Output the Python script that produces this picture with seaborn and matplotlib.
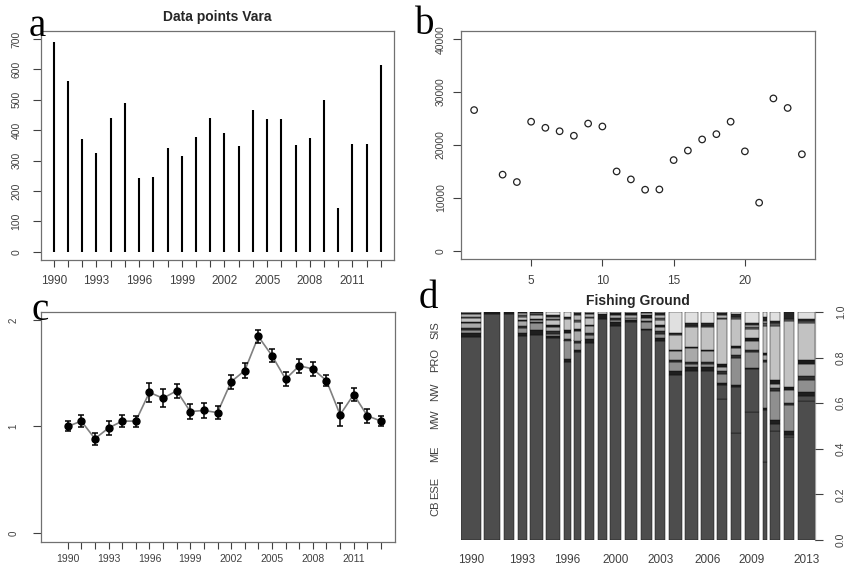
import numpy as np
import pandas as pd
import matplotlib
matplotlib.use("Agg")
import matplotlib.pyplot as plt
import seaborn as sns

# ---------------- data ----------------
years = list(range(1990, 2014))

# (a) number of data points per year
data_points = [690, 560, 370, 325, 440, 490, 243, 247, 340, 315, 378, 440,
               390, 348, 465, 435, 437, 350, 375, 500, 145, 355, 355, 615]

# (b) scatter values by index (index 2 has no value)
b_index = [1, 3, 4, 5, 6, 7, 8, 9, 10, 11, 12, 13, 14, 15, 16, 17, 18, 19,
           20, 21, 22, 23, 24]
b_values = [26600, 14400, 13000, 24400, 23250, 22600, 21750, 24050, 23500,
            15000, 13500, 11550, 11600, 17150, 18950, 21050, 22050, 24400,
            18800, 9100, 28800, 27000, 18250]

# (c) standardised index with error half-widths
c_index = [1.00, 1.05, 0.885, 0.985, 1.05, 1.05, 1.32, 1.265, 1.335, 1.14,
           1.15, 1.13, 1.42, 1.525, 1.845, 1.665, 1.445, 1.57, 1.54, 1.43,
           1.11, 1.30, 1.10, 1.05]
c_err = [0.047, 0.055, 0.055, 0.067, 0.055, 0.052, 0.088, 0.083, 0.064,
         0.074, 0.067, 0.061, 0.067, 0.070, 0.060, 0.063, 0.064, 0.068,
         0.068, 0.052, 0.107, 0.064, 0.067, 0.045]

# (d) fishing ground shares per year (percent), stacked bottom to top
grounds = ["CB", "ESE", "ME", "MW", "MW2", "NW", "NW2", "PRO", "PRO2",
           "SIS", "SIS2", "SIS3"]
ground_colors = ["#4d4d4d", "#4d4d4d", "#1e1e1e", "#8f8f8f", "#2e2e2e",
                 "#a9a9a9", "#1a1a1a", "#c2c2c2", "#5a5a5a", "#b5b5b5",
                 "#262626", "#e0e0e0"]
shares = {
    1990: [89, 0, 2, 1, 1, 2, 0.5, 2, 0.5, 1, 0.5, 0.5],
    1991: [99, 0, 1, 0, 0, 0, 0, 0, 0, 0, 0, 0],
    1992: [99, 0, 1, 0, 0, 0, 0, 0, 0, 0, 0, 0],
    1993: [89.5, 0, 1.5, 2, 1, 2, 0.5, 1.5, 0.5, 1, 0.5, 0],
    1994: [90, 0, 2, 3, 0.5, 1, 0.5, 1.5, 0.5, 0.5, 0.5, 0],
    1995: [88.5, 0, 1, 1, 1, 2, 1, 2, 0.5, 1, 0.5, 1.5],
    1996: [78, 0, 1.5, 8, 0.5, 3, 1, 5, 0.5, 0, 0.5, 2],
    1997: [82.5, 0, 1, 3, 1, 4, 1, 3, 1, 2, 1, 0.5],
    1998: [86.5, 0, 1.5, 2, 1, 3, 0.5, 3, 0.5, 1, 0.5, 0.5],
    1999: [97, 0, 2, 0, 0, 0, 0, 0, 0, 0, 0, 1],
    2000: [94, 0, 1.5, 1, 1, 1, 1, 0, 0, 0, 0, 0.5],
    2001: [95.5, 0, 1, 1, 0, 1, 1, 0, 0, 0, 0, 0.5],
    2002: [92, 0, 0.5, 3, 0.5, 1.5, 1, 1, 0, 0, 0.5, 0],
    2003: [87.5, 0, 1, 2, 1, 2, 1, 2, 1, 1, 1, 0.5],
    2004: [72.5, 0, 1.5, 4, 1, 4, 0.5, 6.5, 0.5, 0, 0.5, 9],
    2005: [74, 0, 2, 1, 1, 6, 0.5, 9, 0.5, 0, 1, 5],
    2006: [74, 0, 2, 1, 1, 5, 0.5, 10, 0.5, 0, 1, 5],
    2007: [62, 6, 1, 4, 1, 2, 1, 20, 0.5, 1, 1, 0.5],
    2008: [47, 20, 1, 12, 1, 3, 1, 12, 1, 0, 1, 1],
    2009: [56, 19, 0.5, 7, 1, 4, 1, 4, 1, 1, 0.5, 5],
    2010: [34, 23, 1, 20, 1, 2, 1, 12, 1, 1, 2, 2],
    2011: [48, 3, 1.5, 13, 1, 2, 1.5, 24, 1, 0, 1, 4],
    2012: [45, 1, 2, 11, 1, 6, 1, 29, 1, 0, 3, 0],
    2013: [61, 2, 2, 5, 2, 5, 2, 16, 1, 0, 1, 3],
}
ground_labels = ["CB", "ESE", "ME", "MW", "NW", "PRO", "SIS"]
ground_label_pos = [0.14, 0.23, 0.38, 0.53, 0.65, 0.79, 0.92]
d_year_labels = [1990, 1993, 1996, 2000, 2003, 2006, 2009, 2013]

# ---------------- style ----------------
sns.set_theme(style="ticks")
plt.rcParams["font.family"] = ["Liberation Sans", "DejaVu Sans"]
plt.rcParams["axes.edgecolor"] = "#707070"
plt.rcParams["axes.linewidth"] = 0.9
plt.rcParams["xtick.color"] = "#404040"
plt.rcParams["ytick.color"] = "#404040"

W, H = 847, 567
fig = plt.figure(figsize=(W / 100, H / 100), dpi=100)


def add_ax(left, top, right, bottom):
    return fig.add_axes([left / W, 1 - bottom / H, (right - left) / W,
                         (bottom - top) / H])


def panel_letter(x, y, s):
    fig.text(x / W, 1 - y / H, s, family=["Liberation Serif", "DejaVu Serif"],
             fontsize=28, ha="center", va="center", color="black")


year_ticklabels = [str(y) if (y - 1990) % 3 == 0 else "" for y in years]

# ---------------- (a) data points ----------------
ax_a = add_ax(40.7, 30.7, 394, 260)
ax_a.vlines(years, 0, data_points, color="black", linewidth=1.5)
ax_a.set_xlim(1989.08, 2013.92)
ax_a.set_ylim(-27.3, 727)
ax_a.set_xticks(years)
ax_a.set_xticklabels(year_ticklabels, fontsize=8.5)
ax_a.set_yticks(range(0, 701, 100))
ax_a.set_yticklabels([str(v) for v in range(0, 701, 100)], fontsize=7.5,
                     rotation=90, va="center")
ax_a.tick_params(axis="x", length=5, width=0.8, pad=6)
ax_a.tick_params(axis="y", length=6, width=0.8, pad=8)
ax_a.set_title("Data points Vara", fontsize=10, fontweight="bold", pad=7)
for s in ax_a.spines.values():
    s.set_visible(True)

# ---------------- (b) scatter ----------------
ax_b = add_ax(461, 30.7, 815, 259.3)
df_b = pd.DataFrame({"idx": b_index, "val": b_values})
sns.scatterplot(data=df_b, x="idx", y="val", ax=ax_b, marker="o", s=22,
                facecolor="none", edgecolor="#222222", linewidth=0.9)
ax_b.set_xlim(0.08, 24.92)
ax_b.set_ylim(-1600, 41600)
ax_b.set_xlabel("")
ax_b.set_ylabel("")
ax_b.set_xticks([5, 10, 15, 20])
ax_b.set_xticklabels(["5", "10", "15", "20"], fontsize=8.5)
ax_b.set_yticks(range(0, 40001, 10000))
ax_b.set_yticklabels([str(v) for v in range(0, 40001, 10000)], fontsize=7.5,
                     rotation=90, va="center")
ax_b.tick_params(axis="x", length=5, width=0.8, pad=6)
ax_b.tick_params(axis="y", length=6, width=0.8, pad=5)

# ---------------- (c) index with error bars ----------------
ax_c = add_ax(40.7, 311.7, 395, 541.7)
df_c = pd.DataFrame({"year": years, "index": c_index})
sns.lineplot(data=df_c, x="year", y="index", ax=ax_c, color="#808080",
             linewidth=1.2)
ax_c.errorbar(years, c_index, yerr=c_err, fmt="o", color="black",
              markersize=5, elinewidth=1.1, capsize=2.0, capthick=1.1,
              zorder=3)
ax_c.set_xlim(1988.02, 2014.03)
ax_c.set_ylim(-0.083, 2.078)
ax_c.set_xlabel("")
ax_c.set_ylabel("")
ax_c.set_xticks(years)
ax_c.set_xticklabels(year_ticklabels, fontsize=7.5)
ax_c.set_yticks([0, 1, 2])
ax_c.set_yticklabels(["0", "1", "2"], fontsize=7, rotation=90, va="center")
ax_c.tick_params(axis="x", length=5, width=0.8, pad=4)
ax_c.tick_params(axis="y", length=6, width=0.8, pad=10)

# ---------------- (d) fishing ground shares ----------------
ax_d = add_ax(461, 312, 815, 540)
gap = 0.01
total = sum(data_points)
scale = 1 - gap * (len(years) - 1)
left = 0.0
centers = []
for yr, n in zip(years, data_points):
    w = n / total * scale
    vals = np.array(shares[yr], dtype=float)
    vals = vals / vals.sum()
    bottom = 0.0
    for v, col in zip(vals, ground_colors):
        if v > 0:
            ax_d.bar(left, v, width=w, bottom=bottom, align="edge", color=col,
                     edgecolor="#111111", linewidth=0.35)
        bottom += v
    centers.append(left + w / 2)
    left += w + gap
ax_d.set_xlim(0, 1)
ax_d.set_ylim(0, 1)
ax_d.set_xticks([c for c, yr in zip(centers, years) if yr in d_year_labels])
ax_d.set_xticklabels([str(y) for y in d_year_labels], fontsize=8.5)
ax_d.tick_params(axis="x", length=0, pad=10)
ax_d.set_yticks(ground_label_pos)
ax_d.set_yticklabels(ground_labels, fontsize=8, rotation=90, va="center")
ax_d.tick_params(axis="y", length=0, pad=15, labelcolor="#404040")
for side in ["left", "top", "bottom"]:
    ax_d.spines[side].set_visible(False)
ax_d.spines["right"].set_color("#a0a0a0")
ax_d2 = ax_d.twinx()
ax_d2.set_ylim(0, 1)
ax_d2.set_yticks([0, 0.2, 0.4, 0.6, 0.8, 1.0])
ax_d2.set_yticklabels(["0.0", "0.2", "0.4", "0.6", "0.8", "1.0"],
                      fontsize=7.5, rotation=90, va="center")
ax_d2.tick_params(axis="y", length=6, width=0.8, pad=9)
for side in ["left", "top", "bottom", "right"]:
    ax_d2.spines[side].set_visible(False)
ax_d.set_title("Fishing Ground", fontsize=10, fontweight="bold", pad=5)

# panel letters
panel_letter(37, 27, "a")
panel_letter(425, 24, "b")
panel_letter(40, 311, "c")
panel_letter(428, 299, "d")

fig.savefig("out.png", dpi=100, facecolor="white")
